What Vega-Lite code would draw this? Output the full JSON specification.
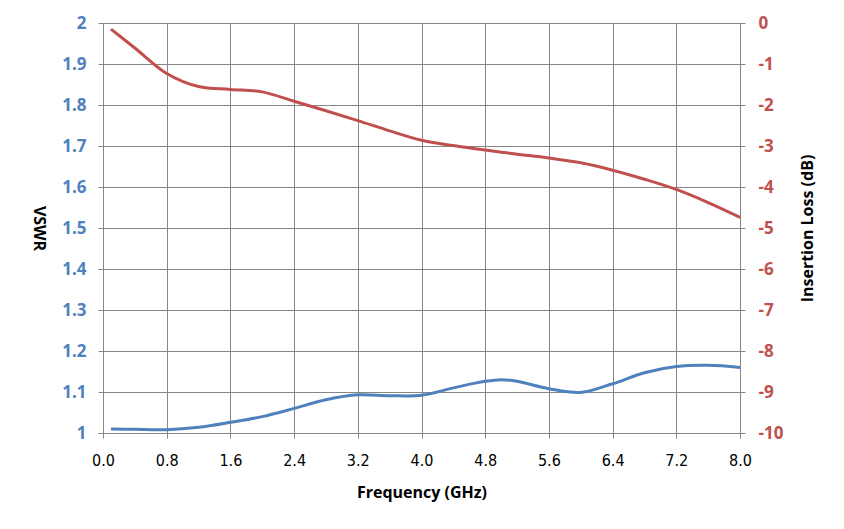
{
  "$schema": "https://vega.github.io/schema/vega-lite/v6.json",
  "width": 637,
  "height": 410,
  "autosize": "none",
  "padding": {"left": 103, "top": 23, "right": 104, "bottom": 96},
  "background": "white",
  "data": {
    "values": [
      {"freq": 0.1, "vswr": 1.010, "loss": -0.15},
      {"freq": 0.4, "vswr": 1.009, "loss": -0.61},
      {"freq": 0.8, "vswr": 1.008, "loss": -1.23},
      {"freq": 1.2, "vswr": 1.014, "loss": -1.55},
      {"freq": 1.6, "vswr": 1.026, "loss": -1.62},
      {"freq": 2.0, "vswr": 1.040, "loss": -1.68},
      {"freq": 2.4, "vswr": 1.060, "loss": -1.91},
      {"freq": 2.8, "vswr": 1.081, "loss": -2.14},
      {"freq": 3.2, "vswr": 1.093, "loss": -2.38},
      {"freq": 3.6, "vswr": 1.091, "loss": -2.63},
      {"freq": 4.0, "vswr": 1.092, "loss": -2.86},
      {"freq": 4.4, "vswr": 1.110, "loss": -2.99},
      {"freq": 4.8, "vswr": 1.126, "loss": -3.10},
      {"freq": 5.0, "vswr": 1.130, "loss": -3.15},
      {"freq": 5.2, "vswr": 1.126, "loss": -3.20},
      {"freq": 5.6, "vswr": 1.108, "loss": -3.29},
      {"freq": 6.0, "vswr": 1.099, "loss": -3.41},
      {"freq": 6.4, "vswr": 1.120, "loss": -3.59},
      {"freq": 6.8, "vswr": 1.147, "loss": -3.81},
      {"freq": 7.2, "vswr": 1.162, "loss": -4.06},
      {"freq": 7.6, "vswr": 1.165, "loss": -4.38},
      {"freq": 8.0, "vswr": 1.160, "loss": -4.74}
    ]
  },
  "encoding": {
    "x": {
      "field": "freq",
      "type": "quantitative",
      "title": "Frequency (GHz)",
      "scale": {"domain": [0, 8], "nice": false, "zero": false},
      "axis": {
        "values": [0, 0.8, 1.6, 2.4, 3.2, 4.0, 4.8, 5.6, 6.4, 7.2, 8.0],
        "format": ".1f",
        "grid": true,
        "gridColor": "#868686",
        "gridOpacity": 1,
        "domainColor": "#868686",
        "tickColor": "#868686",
        "tickSize": 5,
        "labelFont": "DejaVu Sans Condensed, Liberation Sans Narrow, Roboto",
        "labelFontSize": 16,
        "labelFontStretch": "condensed",
        "labelColor": "#000000",
        "labelPadding": 14,
        "labelFlush": false,
        "titleFont": "Open Sans",
        "titleFontSize": 16,
        "titleFontWeight": "bold",
        "titleColor": "#000000",
        "titlePadding": 16
      }
    }
  },
  "layer": [
    {
      "mark": {"type": "line", "color": "#4F81BD", "strokeWidth": 3, "interpolate": "catmull-rom"},
      "encoding": {
        "y": {
          "field": "vswr",
          "type": "quantitative",
          "title": "VSWR",
          "scale": {"domain": [1, 2], "nice": false, "zero": false},
          "axis": {
            "orient": "left",
            "values": [1, 1.1, 1.2, 1.3, 1.4, 1.5, 1.6, 1.7, 1.8, 1.9, 2],
            "format": "~g",
            "grid": true,
            "gridColor": "#868686",
            "gridOpacity": 1,
            "domainColor": "#868686",
            "tickColor": "#868686",
            "tickSize": 5,
            "labelFont": "Open Sans",
            "labelFontSize": 17,
            "labelFontWeight": "bold",
            "labelColor": "#4F81BD",
            "labelPadding": 12,
            "titleFont": "Open Sans",
            "titleFontSize": 16,
            "titleFontWeight": "bold",
            "titleColor": "#000000",
            "titleAngle": 90,
            "titleX": -65,
            "titleY": 205,
            "titleAlign": "center",
            "titleBaseline": "middle"
          }
        }
      }
    },
    {
      "mark": {"type": "line", "color": "#C0504D", "strokeWidth": 3, "interpolate": "catmull-rom"},
      "encoding": {
        "y": {
          "field": "loss",
          "type": "quantitative",
          "title": "Insertion Loss (dB)",
          "scale": {"domain": [-10, 0], "nice": false, "zero": false},
          "axis": {
            "orient": "right",
            "values": [0, -1, -2, -3, -4, -5, -6, -7, -8, -9, -10],
            "labelExpr": "'' + datum.value",
            "grid": false,
            "domainColor": "#868686",
            "tickColor": "#868686",
            "tickSize": 5,
            "labelFont": "Open Sans",
            "labelFontSize": 17,
            "labelFontWeight": "bold",
            "labelColor": "#C0504D",
            "labelPadding": 13,
            "titleFont": "Open Sans",
            "titleFontSize": 16,
            "titleFontWeight": "bold",
            "titleColor": "#000000",
            "titleAngle": 270,
            "titleX": 67,
            "titleY": 205,
            "titleAlign": "center",
            "titleBaseline": "middle"
          }
        }
      }
    }
  ],
  "resolve": {"scale": {"y": "independent"}},
  "config": {
    "view": {"stroke": "#868686"},
    "axis": {"domainWidth": 1, "gridWidth": 1}
  }
}
